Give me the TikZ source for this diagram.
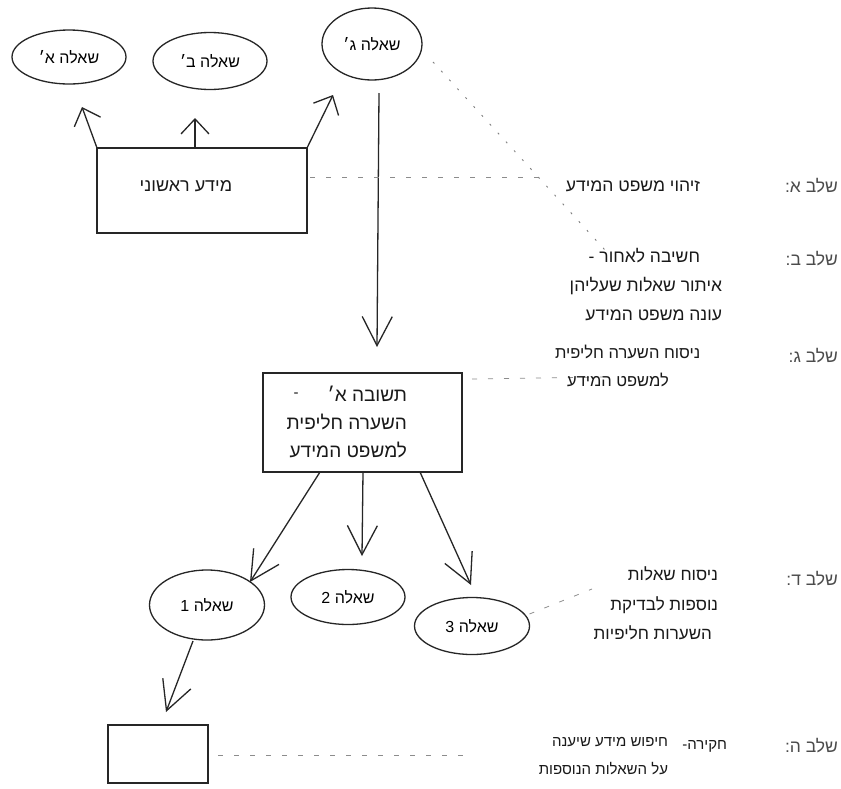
\documentclass[tikz,border=0pt]{standalone}
\usepackage{fontspec}
\setmainfont[Script=Hebrew]{Liberation Sans}
\TeXXeTstate=1
\usetikzlibrary{arrows.meta,shapes.geometric}
\newcommand{\heb}[1]{\beginR #1\endR}
\begin{document}
\begin{tikzpicture}[x=1pt,y=-1pt,
  every node/.style={inner sep=0pt,outer sep=0pt},
  shapeline/.style={draw=black!85,line width=1.3pt},
  qell/.style={shapeline,ellipse,font=\fontsize{16}{18}\selectfont},
  bx/.style={shapeline,rectangle},
  txt/.style={font=\fontsize{15}{28}\selectfont,text=black!90},
  stage/.style={font=\fontsize{17.5}{20}\selectfont,text=black!70,anchor=east},
  arr/.style={draw=black!85,line width=1.3pt,-{Straight Barb[length=15pt,width=28pt,line width=1.3pt]}},
  bigarr/.style={draw=black!85,line width=1.3pt,-{Straight Barb[length=29pt,width=30pt,line width=1.3pt]}},
  dsh/.style={draw=black!45,line width=0.8pt,dash pattern=on 5pt off 11pt},
  dots/.style={draw=black!50,line width=0.9pt,dash pattern=on 2pt off 10pt}]
\useasboundingbox (0,0) rectangle (841,788);
\fill[white] (0,0) rectangle (841,788);

% top ellipses
\node[qell,minimum width=114pt,minimum height=54pt] (qa) at (69,57) {\heb{שאלה א׳}};
\node[qell,minimum width=114pt,minimum height=57pt] (qb) at (210,61) {\heb{שאלה ב׳}};
\node[qell,minimum width=100pt,minimum height=72pt] (qc) at (372,44) {\heb{שאלה ג׳}};

% info box
\node[bx,minimum width=210pt,minimum height=85pt] (info) at (202,190.5) {};
\node[txt,font=\fontsize{18}{20}\selectfont] (infot) at (186,186) {\heb{מידע ראשוני}};

\coordinate (tA) at (82,107);
\coordinate (sB) at (195,148);
\coordinate (tB) at (195,118);
\coordinate (tC) at (333,95);
\draw[arr] (info.north west) -- (tA);
\draw[arr] (sB) -- (tB);
\draw[arr] (info.north east) -- (tC);

% long vertical arrow
\coordinate (gtop) at (379,93);
\coordinate (gtip) at (377,347);
\draw[bigarr] (gtop) -- (gtip);

% answer box
\node[bx,minimum width=199pt,minimum height=99pt] (ans) at (362.5,422.5) {};
\node[txt,align=right,anchor=north east,font=\fontsize{19}{28}\selectfont] (anst) at (407,386) {\heb{תשובה א׳}\\\heb{השערה חליפית}\\\heb{למשפט המידע}};
\node[txt] (ansdash) at (296,395) {-};

% second row ellipses
\node[qell,minimum width=115pt,minimum height=70pt] (q1) at (207,605) {\heb{שאלה 1}};
\node[qell,minimum width=114pt,minimum height=55pt] (q2) at (348,597) {\heb{שאלה 2}};
\node[qell,minimum width=115pt,minimum height=57pt] (q3) at (472,626) {\heb{שאלה 3}};

\coordinate (s1) at (320,472);
\coordinate (t1) at (250,582);
\coordinate (s2) at (363,472);
\coordinate (t2) at (362,556);
\coordinate (s3) at (420,472);
\coordinate (t3) at (471,585);
\draw[bigarr] (s1) -- (t1);
\draw[bigarr] (s2) -- (t2);
\draw[bigarr] (s3) -- (t3);

% bottom box
\node[bx,minimum width=100pt,minimum height=58pt] (inv) at (158,754) {};
\coordinate (s4) at (193,641);
\coordinate (t4) at (166,712);
\draw[bigarr] (s4) -- (t4);

% dashed guide lines
\coordinate (dA) at (545,177);
\draw[dsh] (info.east |- dA) ++(3,0) -- (dA);
\coordinate (dgs) at (433,62);
\coordinate (dge) at (605,250);
\draw[dots] (dgs) -- (dge);
\coordinate (dC) at (602,377);
\draw[dsh] (ans.east |- dC) ++(10,2) -- (dC);
\coordinate (dD) at (592,589);
\draw[dsh] (q3.east) ++(0,-12) -- (dD);
\coordinate (dE) at (470,755);
\draw[dsh] (inv.east |- dE) ++(10,0) -- (dE);

% stage labels
\node[stage] (la) at (838,186) {\heb{שלב א:}};
\node[stage] (lb) at (838,259) {\heb{שלב ב:}};
\node[stage] (lc) at (838,356) {\heb{שלב ג:}};
\node[stage] (ld) at (838,579) {\heb{שלב ד:}};
\node[stage] (le) at (838,746) {\heb{שלב ה:}};

% stage texts
\node[txt,anchor=east,font=\fontsize{17.5}{20}\selectfont] (ta) at (700,186) {\heb{זיהוי משפט המידע}};
\node[txt,align=right,anchor=north east,font=\fontsize{17.5}{29}\selectfont] (tb) at (722,248) {\heb{חשיבה לאחור -}\hspace*{22pt}\\\heb{איתור שאלות שעליהן}\\\heb{עונה משפט המידע}};
\node[txt,align=left,anchor=north west,font=\fontsize{16.5}{28}\selectfont] (tc) at (555,345) {\heb{ניסוח השערה חליפית}\\\hspace*{12pt}\heb{למשפט המידע}};
\node[txt,align=right,anchor=north east,font=\fontsize{17}{29.5}\selectfont] (td) at (718,567) {\heb{ניסוח שאלות}\\\heb{נוספות לבדיקת}\\\heb{השערות חליפיות}\hspace*{6pt}};
\node[txt,anchor=east] (tek) at (727,746) {\heb{חקירה-}};
\node[txt,align=right,anchor=north east] (te) at (668,737) {\heb{חיפוש מידע שיענה}\\\heb{על השאלות הנוספות}};
\end{tikzpicture}
\end{document}
